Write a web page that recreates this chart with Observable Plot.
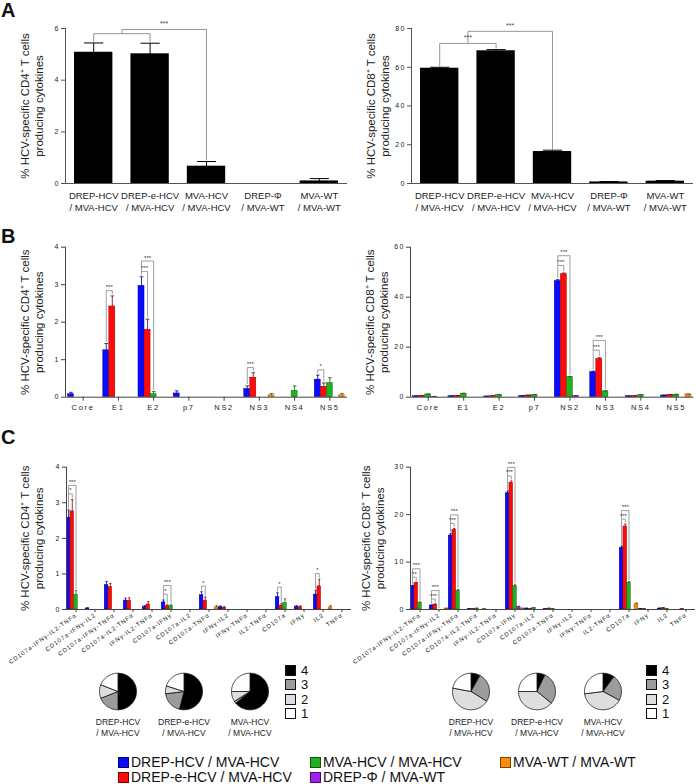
<!DOCTYPE html>
<html><head><meta charset="utf-8">
<script src="https://cdn.jsdelivr.net/npm/d3@7"></script>
<script src="https://cdn.jsdelivr.net/npm/@observablehq/plot@0.6"></script>
<style>
body{margin:0;background:#fff;font-family:"Liberation Sans",Arial,sans-serif;color:#222;}
#fig{position:relative;width:696px;height:784px;overflow:hidden;background:#fff;}
.p{position:absolute;}
g[aria-label="y-axis tick label"] text{letter-spacing:1.2px;}
.bx g[aria-label="x-axis tick label"] text{letter-spacing:1.7px;}
.cx g[aria-label="x-axis tick label"] text{letter-spacing:0.9px;}
g[aria-label="sig"] text{letter-spacing:0.8px;}
.sq{position:absolute;width:9px;height:9px;border:1px solid #222;}
.lt{position:absolute;white-space:nowrap;line-height:1;color:#111;z-index:5;}
</style>
</head><body>
<div id="fig"></div>
<script>
// ---------------- data ----------------
const seriesNames = ["DREP-HCV / MVA-HCV","DREP-e-HCV / MVA-HCV","MVA-HCV / MVA-HCV","DREP-Φ / MVA-WT","MVA-WT / MVA-WT"];
const seriesFill = ["#0a0aff","#ff0a0a","#22b022","#a020f0","#ff8c0a"];
const seriesEdge = ["#00006a","#780000","#0b550b","#4b0a70","#7a4200"];

const groupsA = ["DREP-HCV\n/ MVA-HCV","DREP-e-HCV\n/ MVA-HCV","MVA-HCV\n/ MVA-HCV","DREP-Φ\n/ MVA-WT","MVA-WT\n/ MVA-WT"];
const cd4TotalMean = [5.08, 5.02, 0.67, 0, 0.10];
const cd4TotalSem  = [0.36, 0.41, 0.18, 0, 0.09];
const cd8TotalMean = [59.5, 68.5, 16.5, 0.8, 1.2];
const cd8TotalSem  = [0.5, 0.6, 0.7, 0.2, 0.3];
const sigA4 = {left: [0, 1], right: 2, labels: ["", "***"]};
const sigA8 = {left: [0, 1], right: 2, labels: ["***", "***"]};

const antigens = ["Core","E1","E2","p7","NS2","NS3","NS4","NS5"];
const cd4AntigenMean = [
  [0.08, 1.25, 2.97, 0.10, 0, 0.22, 0, 0.47],
  [0, 2.42, 1.80, 0, 0, 0.52, 0, 0.28],
  [0, 0, 0.08, 0, 0, 0, 0.17, 0.38],
  [0, 0, 0, 0, 0, 0, 0, 0],
  [0, 0, 0, 0, 0, 0.05, 0, 0.05]
];
const cd4AntigenSem = [
  [0.05, 0.18, 0.24, 0.07, 0, 0.08, 0, 0.12],
  [0, 0.28, 0.28, 0, 0, 0.13, 0, 0.10],
  [0, 0, 0.07, 0, 0, 0, 0.13, 0.14],
  [0, 0, 0, 0, 0, 0, 0, 0],
  [0, 0, 0, 0, 0, 0.05, 0, 0.05]
];
const cd8AntigenMean = [
  [0.4, 0.4, 0.3, 0.5, 46.5, 10.0, 0.4, 0.7],
  [0.6, 0.6, 0.5, 0.7, 49.2, 15.3, 0.5, 0.9],
  [1.1, 1.4, 0.9, 0.9, 8.0, 2.3, 0.8, 1.0],
  [0.2, 0, 0, 0, 0.5, 0, 0, 0],
  [0, 0, 0, 0, 0, 0, 0, 1.1]
];
const cd8AntigenSem = [
  [0.1, 0.1, 0.1, 0.1, 0.5, 0.4, 0.1, 0.1],
  [0.1, 0.1, 0.1, 0.1, 0.5, 0.5, 0.1, 0.1],
  [0.2, 0.2, 0.2, 0.2, 0.3, 0.3, 0.2, 0.2],
  [0.1, 0, 0, 0, 0.1, 0, 0, 0],
  [0, 0, 0, 0, 0, 0, 0, 0.2]
];
const sigCD4Antigen = [
  {cat: "E1", a: 0, b: 1, label: "***"},
  {cat: "E2", a: 0, b: 1, label: "***"},
  {cat: "E2", a: 0, b: 2, label: "***"},
  {cat: "NS3", a: 0, b: 1, label: "***"},
  {cat: "NS5", a: 0, b: 1, label: "*"}
];
const sigCD8Antigen = [
  {cat: "NS2", a: 0, b: 1, label: "***"},
  {cat: "NS2", a: 0, b: 2, label: "***"},
  {cat: "NS3", a: 0, b: 1, label: "***"},
  {cat: "NS3", a: 0, b: 2, label: "***"}
];

const combos = ["CD107a-IFNγ-IL2-TNFα","CD107a-IFNγ-IL2","CD107a-IFNγ-TNFα","CD107a-IL2-TNFα","IFNγ-IL2-TNFα","CD107a-IFNγ","CD107a-IL2","CD107a-TNFα","IFNγ-IL2","IFNγ-TNFα","IL2-TNFα","CD107a","IFNγ","IL2","TNFα"];
const cd4ComboMean = [
  [2.58, 0.03, 0.69, 0.25, 0.07, 0.20, 0, 0.40, 0.07, 0, 0, 0.35, 0.08, 0.42, 0],
  [2.76, 0, 0.63, 0.25, 0.14, 0.09, 0, 0.25, 0.05, 0, 0, 0.11, 0.07, 0.65, 0],
  [0.41, 0, 0, 0, 0, 0.09, 0, 0, 0, 0, 0, 0.18, 0, 0, 0],
  [0, 0, 0, 0, 0, 0, 0, 0, 0, 0, 0, 0, 0, 0, 0],
  [0, 0, 0, 0, 0, 0, 0, 0.06, 0, 0, 0, 0, 0, 0.06, 0]
];
const cd4ComboSem = [
  [0.22, 0.02, 0.10, 0.07, 0.04, 0.07, 0, 0.10, 0.03, 0, 0, 0.12, 0.03, 0.12, 0],
  [0.33, 0, 0.10, 0.08, 0.08, 0.04, 0, 0.10, 0.03, 0, 0, 0.05, 0.03, 0.20, 0],
  [0.12, 0, 0, 0, 0, 0.04, 0, 0, 0, 0, 0, 0.12, 0, 0, 0],
  [0, 0, 0, 0, 0, 0, 0, 0, 0, 0, 0, 0, 0, 0, 0],
  [0, 0, 0, 0, 0, 0, 0, 0.05, 0, 0, 0, 0, 0, 0.05, 0]
];
const cd8ComboMean = [
  [4.9, 0.85, 15.6, 0.1, 0, 24.5, 0.2, 0.1, 0, 0, 0, 13.0, 0.1, 0.2, 0],
  [5.55, 1.05, 16.8, 0.1, 0, 26.7, 0.1, 0.2, 0, 0, 0, 17.5, 0.1, 0.3, 0.1],
  [1.4, 0, 3.9, 0.2, 0, 4.9, 0.3, 0.1, 0, 0, 0, 5.6, 0, 0.1, 0],
  [0, 0, 0, 0, 0, 0.5, 0, 0, 0, 0, 0, 0, 0, 0, 0],
  [0, 0.2, 0, 0.1, 0, 0.2, 0, 0, 0, 0, 0, 1.1, 0, 0, 0]
];
const cd8ComboSem = [
  [0.2, 0.1, 0.4, 0.05, 0, 0.5, 0.1, 0.05, 0, 0, 0, 0.4, 0.05, 0.1, 0],
  [0.2, 0.1, 0.3, 0.05, 0, 0.4, 0.05, 0.1, 0, 0, 0, 0.5, 0.05, 0.1, 0.05],
  [0.2, 0, 0.3, 0.1, 0, 0.3, 0.1, 0.05, 0, 0, 0, 0.3, 0, 0.05, 0],
  [0, 0, 0, 0, 0, 0.2, 0, 0, 0, 0, 0, 0, 0, 0, 0],
  [0, 0.1, 0, 0.05, 0, 0.1, 0, 0, 0, 0, 0, 0.3, 0, 0, 0]
];
const sigCD4Combo = [
  {cat: 0, a: 0, b: 1, label: "*"},
  {cat: 0, a: 0, b: 2, label: "***"},
  {cat: 5, a: 0, b: 1, label: "*"},
  {cat: 5, a: 0, b: 2, label: "***"},
  {cat: 7, a: 0, b: 1, label: "*"},
  {cat: 11, a: 0, b: 1, label: "*"},
  {cat: 13, a: 0, b: 1, label: "*"}
];
const sigCD8Combo = [
  {cat: 0, a: 0, b: 1, label: "**"},
  {cat: 0, a: 0, b: 2, label: "***"},
  {cat: 1, a: 0, b: 1, label: "***"},
  {cat: 1, a: 0, b: 2, label: "***"},
  {cat: 2, a: 0, b: 1, label: "***"},
  {cat: 2, a: 0, b: 2, label: "***"},
  {cat: 5, a: 0, b: 1, label: "***"},
  {cat: 5, a: 0, b: 2, label: "***"},
  {cat: 11, a: 0, b: 1, label: "***"},
  {cat: 11, a: 0, b: 2, label: "***"}
];

const pieGroups = ["DREP-HCV\n/ MVA-HCV","DREP-e-HCV\n/ MVA-HCV","MVA-HCV\n/ MVA-HCV"];
const pieLevels = ["4","3","2","1"];
const pieColors = ["#000000","#9c9c9c","#dedede","#ffffff"];
const cd4PieShares = [[0.50, 0.19, 0.12, 0.19], [0.54, 0.19, 0.07, 0.20], [0.64, 0.02, 0.09, 0.25]];
const cd8PieShares = [[0.08, 0.26, 0.44, 0.22], [0.07, 0.29, 0.39, 0.25], [0.10, 0.23, 0.40, 0.27]];

const titleCD4 = "% HCV-specific CD4⁺ T cells\nproducing cytokines";
const titleCD8 = "% HCV-specific CD8⁺ T cells\nproducing cytokines";

// ---------------- helpers ----------------
const FONT = "Liberation Sans, Arial, sans-serif";
const fig = document.getElementById("fig");
function place(node, left, top, cls) {
  const d = document.createElement("div");
  d.className = "p" + (cls ? " " + cls : "");
  d.style.left = left + "px"; d.style.top = top + "px";
  d.appendChild(node); fig.appendChild(d);
}
const baseStyle = {background: "transparent", overflow: "visible", fontFamily: FONT, color: "#222"};
const intFmt = d => String(d);

function yTitle(title, dx) {
  return Plot.text([title], {frameAnchor: "left", rotate: -90, dx, fontSize: 11.5, lineHeight: 1.25, textAnchor: "middle", fill: "#222"});
}

function panelA({mean, sem, ymax, yTicks, title, sig, pad, step, gap, width, marginLeft, marginRight}) {
  const rows = mean.map((v, i) => ({i, v, e: sem[i]}));
  const top = i => rows[i].v + rows[i].e;
  const [l0, l1] = sig.left, r = sig.right;
  const t1 = Math.max(top(l0), top(l1)) + pad * ymax;
  const t2 = t1 + step * ymax;
  const mid = (l0 + l1) / 2;
  const segs = [
    {x1: l0, y1: top(l0) + gap * ymax, x2: l0, y2: t1},
    {x1: l0, y1: t1, x2: l1, y2: t1},
    {x1: l1, y1: t1, x2: l1, y2: top(l1) + gap * ymax},
    {x1: mid, y1: t1, x2: mid, y2: t2},
    {x1: mid, y1: t2, x2: r, y2: t2},
    {x1: r, y1: t2, x2: r, y2: top(r) + gap * ymax}
  ];
  const sigText = [
    {x: mid, y: t1, text: sig.labels[0]},
    {x: (mid + r) / 2, y: t2, text: sig.labels[1]}
  ].filter(d => d.text);
  const errs = rows.filter(d => d.e > 0);
  const bw = 0.34;
  return Plot.plot({
    width, height: 225, marginTop: 28, marginBottom: 42, marginLeft, marginRight,
    style: baseStyle,
    x: {domain: [-0.5, mean.length - 0.5], axis: null},
    y: {domain: [0, ymax], axis: null},
    marks: [
      Plot.rectY(rows, {x1: d => d.i - bw, x2: d => d.i + bw, y: "v", fill: "#000"}),
      Plot.link(errs, {x1: "i", x2: "i", y1: "v", y2: d => d.v + d.e, stroke: "#000", strokeWidth: 1}),
      Plot.link(errs, {x1: d => d.i - bw * 0.5, x2: d => d.i + bw * 0.5, y1: d => d.v + d.e, y2: d => d.v + d.e, stroke: "#000", strokeWidth: 1}),
      Plot.link(segs, {x1: "x1", y1: "y1", x2: "x2", y2: "y2", stroke: "#8a8a8a", strokeWidth: 0.9}),
      Plot.text(sigText, {x: "x", y: "y", text: "text", dy: -3, lineAnchor: "bottom", fontSize: 7, fill: "#444", ariaLabel: "sig"}),
      Plot.ruleY([0], {stroke: "#555", strokeWidth: 1.2}),
      Plot.ruleX([-0.5], {stroke: "#555", strokeWidth: 1}),
      Plot.axisY({ticks: yTicks, tickFormat: intFmt, tickSize: 4, tickPadding: 2, fontSize: 7, label: null, stroke: "#555"}),
      Plot.axisX({ticks: d3.range(mean.length), tickFormat: i => groupsA[i], tickSize: 0, tickPadding: 6, fontSize: 9.5, lineHeight: 1.35, label: null}),
      yTitle(title, -34)
    ]
  });
}

function panelGrouped({cats, means, sems, sig, ymax, yTicks, title, groupWidth, pad, step, gap, width, height, marginTop, marginBottom, marginLeft, marginRight, titleDx, xAxis}) {
  const bw = groupWidth / means.length;
  const rows = [];
  cats.forEach((c, ci) => means.forEach((arr, si) => {
    if (arr[ci] > 0) rows.push({ci, si, v: arr[ci], e: sems[si][ci]});
  }));
  const xStart = d => d.ci - groupWidth / 2 + d.si * bw;
  const xMid = d => xStart(d) + bw / 2;
  const errs = rows.filter(d => d.e > 0);
  const find = (ci, si) => rows.find(r => r.ci === ci && r.si === si) || {ci, si, v: 0, e: 0};
  const segs = [], labels = [];
  const byCat = d3.group(sig, s => s.cat);
  for (const [cat, list] of byCat) {
    const ci = typeof cat === "number" ? cat : cats.indexOf(cat);
    let prevTop = null;
    list.forEach((s, k) => {
      const ra = find(ci, s.a), rb = find(ci, s.b);
      const spanMax = d3.max(d3.range(s.a, s.b + 1), si => { const r = find(ci, si); return r.v + r.e; });
      const t = k === 0 ? spanMax + pad * ymax : prevTop + step * ymax;
      const xa = xMid(ra), xb = xMid(rb);
      segs.push({x1: xa, y1: k === 0 ? ra.v + ra.e + gap * ymax : prevTop, x2: xa, y2: t});
      segs.push({x1: xa, y1: t, x2: xb, y2: t});
      segs.push({x1: xb, y1: t, x2: xb, y2: rb.v + rb.e + gap * ymax});
      labels.push({x: (xa + xb) / 2, y: t, text: s.label});
      prevTop = t;
    });
  }
  return Plot.plot({
    width, height, marginTop, marginBottom, marginLeft, marginRight,
    style: baseStyle,
    x: {domain: [-0.5, cats.length - 0.5], axis: null},
    y: {domain: [0, ymax], axis: null},
    color: {type: "identity"},
    marks: [
      Plot.rectY(rows, {x1: xStart, x2: d => xStart(d) + bw, y: "v", fill: d => seriesFill[d.si], stroke: d => seriesEdge[d.si], strokeWidth: 0.4}),
      Plot.link(errs, {x1: xMid, x2: xMid, y1: "v", y2: d => d.v + d.e, stroke: d => seriesEdge[d.si], strokeWidth: 0.8}),
      Plot.link(errs, {x1: d => xMid(d) - bw * 0.3, x2: d => xMid(d) + bw * 0.3, y1: d => d.v + d.e, y2: d => d.v + d.e, stroke: d => seriesEdge[d.si], strokeWidth: 0.8}),
      Plot.link(segs, {x1: "x1", y1: "y1", x2: "x2", y2: "y2", stroke: "#777", strokeWidth: 0.7}),
      Plot.text(labels, {x: "x", y: "y", text: "text", dy: -1.5, lineAnchor: "bottom", fontSize: 6, fill: "#333", ariaLabel: "sig"}),
      Plot.ruleY([0], {stroke: "#444", strokeWidth: 1}),
      Plot.ruleX([-0.5], {stroke: "#444", strokeWidth: 1}),
      Plot.axisY({ticks: yTicks, tickFormat: intFmt, tickSize: 4, tickPadding: 2, fontSize: 7, label: null, stroke: "#444"}),
      Plot.axisX({ticks: d3.range(cats.length), tickFormat: i => cats[i], label: null, stroke: "#444", ...xAxis}),
      yTitle(title, titleDx)
    ]
  });
}

function pies(shares, marginLeft, marginRight) {
  const pts = [];
  shares.forEach((vals, gi) => {
    const g = pieGroups[gi];
    d3.pie().sort(null).value(d => d)(vals).forEach((a, li) => {
      const span = a.endAngle - a.startAngle;
      if (span <= 0) return;
      const key = gi + "-" + li, level = pieLevels[li];
      pts.push({g, key, level, x: 0, y: 0});
      const n = Math.max(2, Math.ceil(span / 0.04));
      for (let k = 0; k <= n; k++) {
        const t = a.startAngle + span * k / n;
        pts.push({g, key, level, x: Math.sin(t), y: Math.cos(t)});
      }
      pts.push({g, key, level, x: 0, y: 0});
    });
  });
  return Plot.plot({
    width: 348, height: 100, marginTop: 22.7, marginBottom: 40.7, marginLeft, marginRight,
    style: baseStyle,
    fx: {domain: pieGroups, paddingInner: 0.445, paddingOuter: 0.2225},
    x: {domain: [-1, 1], axis: null},
    y: {domain: [-1, 1], axis: null},
    color: {domain: pieLevels, range: pieColors},
    marks: [
      Plot.line(pts, {fx: "g", x: "x", y: "y", z: "key", fill: "level", stroke: "#111", strokeWidth: 0.8, strokeLinejoin: "round"}),
      Plot.axisFx({anchor: "bottom", tickSize: 0, tickPadding: 7, fontSize: 8.5, lineHeight: 1.3, label: null})
    ]
  });
}

// ---------------- panels ----------------
place(panelA({mean: cd4TotalMean, sem: cd4TotalSem, ymax: 6, yTicks: [0, 2, 4, 6], title: titleCD4, sig: sigA4,
  pad: 0.06, step: 0.027, gap: 0.008, width: 350, marginLeft: 65, marginRight: 3}), 0, 0);
place(panelA({mean: cd8TotalMean, sem: cd8TotalSem, ymax: 80, yTicks: [0, 20, 40, 60, 80], title: titleCD8, sig: sigA8,
  pad: 0.04, step: 0.078, gap: 0.008, width: 348, marginLeft: 63, marginRight: 3}), 348, 0);

const bAxis = {tickSize: 4, tickPadding: 3, fontSize: 7.5};
place(panelGrouped({cats: antigens, means: cd4AntigenMean, sems: cd4AntigenSem, sig: sigCD4Antigen, ymax: 4, yTicks: [0,1,2,3,4],
  title: titleCD4, groupWidth: 0.86, pad: 0.035, step: 0.07, gap: 0.01, width: 350, height: 225, marginTop: 46.7, marginBottom: 28.3,
  marginLeft: 65, marginRight: 3, titleDx: -34, xAxis: bAxis}), 0, 200, "bx");
place(panelGrouped({cats: antigens, means: cd8AntigenMean, sems: cd8AntigenSem, sig: sigCD8Antigen, ymax: 60, yTicks: [0,20,40,60],
  title: titleCD8, groupWidth: 0.86, pad: 0.05, step: 0.065, gap: 0.01, width: 348, height: 225, marginTop: 46.7, marginBottom: 28.3,
  marginLeft: 62, marginRight: 2.5, titleDx: -34, xAxis: bAxis}), 348, 200, "bx");

const cAxis = {tickSize: 3, tickPadding: 2, fontSize: 6, tickRotate: -36};
place(panelGrouped({cats: combos, means: cd4ComboMean, sems: cd4ComboSem, sig: sigCD4Combo, ymax: 4, yTicks: [0,1,2,3,4],
  title: titleCD4, groupWidth: 0.98, pad: 0.04, step: 0.06, gap: 0.01, width: 356, height: 240, marginTop: 26.7, marginBottom: 71,
  marginLeft: 66, marginRight: 5, titleDx: -35, xAxis: cAxis}), 0, 440, "cx");
place(panelGrouped({cats: combos, means: cd8ComboMean, sems: cd8ComboSem, sig: sigCD8Combo, ymax: 30, yTicks: [0,10,20,30],
  title: titleCD8, groupWidth: 0.98, pad: 0.035, step: 0.06, gap: 0.01, width: 356, height: 240, marginTop: 26.7, marginBottom: 71,
  marginLeft: 70, marginRight: 1, titleDx: -38, xAxis: cAxis}), 340, 440, "cx");

place(pies(cd4PieShares, 84, 66), 0, 650);
place(pies(cd8PieShares, 89, 61), 348, 650);

// ---------------- letters & legends (HTML) ----------------
function addText(txt, left, top, size, extra) {
  const d = document.createElement("div");
  d.className = "lt"; d.textContent = txt;
  d.style.left = left + "px"; d.style.top = top + "px"; d.style.fontSize = size + "px";
  if (extra) Object.assign(d.style, extra);
  fig.appendChild(d);
}
function addSq(left, top, fill, border) {
  const d = document.createElement("div");
  d.className = "sq"; d.style.left = left + "px"; d.style.top = top + "px"; d.style.background = fill;
  if (border) d.style.borderColor = border;
  fig.appendChild(d);
}
[["A", 0], ["B", 226], ["C", 427]].forEach(([t, y]) => addText(t, 1, y, 20, {fontWeight: "bold"}));

[285, 646].forEach(x => pieLevels.forEach((lv, k) => {
  addSq(x, 665 + k * 14.3, pieColors[k], "#111");
  addText(lv, x + 16, 664 + k * 14.3, 13);
}));

const legPos = [[118, 757], [118, 772], [310, 757], [310, 772], [500, 757]];
seriesNames.forEach((name, i) => {
  const [x, y] = legPos[i];
  addSq(x, y, seriesFill[i], seriesEdge[i]);
  addText(name, x + 13, y - 2, 14);
});
</script>
</body></html>
